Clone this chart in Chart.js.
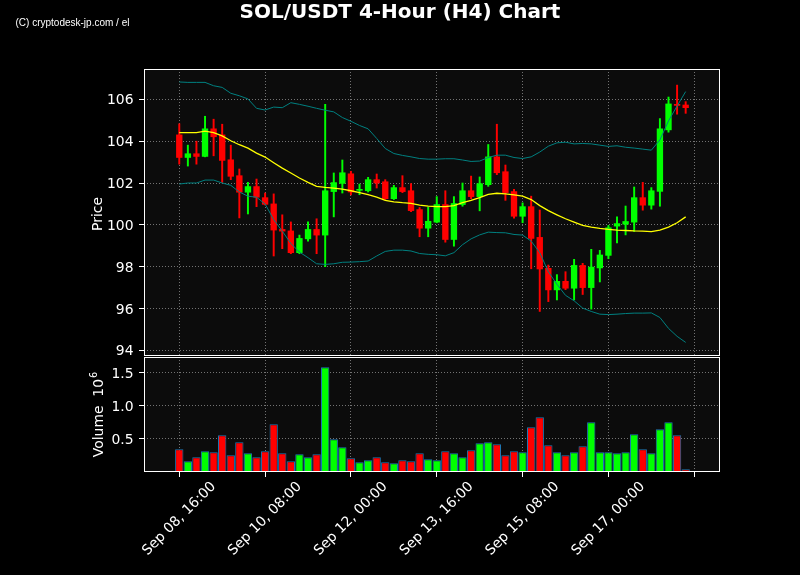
<!DOCTYPE html>
<html>
<head>
<meta charset="utf-8">
<title>SOL/USDT 4-Hour (H4) Chart</title>
<script src="https://cdn.jsdelivr.net/npm/chart.js@4.4.0/dist/chart.umd.min.js"></script>
<style>
    html, body { margin: 0; padding: 0; background: #000; }
    #wrap { position: relative; width: 800px; height: 575px; }
    canvas { position: absolute; left: 0; top: 0; }
</style>
</head>
<body>
<div id="wrap">
    <canvas id="price_chart" width="800" height="575"></canvas>
    <canvas id="volume_chart" width="800" height="575"></canvas>
</div>
<script>
// 60 candles, 4h each, starting Sep 08 16:00
const opens = [
    104.30, 103.22, 103.40, 103.27, 104.59, 104.30, 103.11, 102.35, 101.56, 101.83,
    101.30, 101.00, 99.78, 99.71, 98.67, 99.33, 99.78, 99.51, 101.59, 101.98,
    102.44, 101.65, 101.63, 102.16, 102.06, 101.25, 101.78, 101.63, 100.73, 99.84,
    100.13, 100.97, 99.30, 100.97, 101.63, 101.35, 101.92, 103.25, 102.54, 101.59,
    100.41, 100.87, 99.40, 97.92, 96.89, 97.30, 96.97, 98.06, 97.00, 97.94,
    98.54, 99.94, 100.03, 100.13, 101.30, 100.94, 101.60, 104.54, 105.76, 105.73
];
const highs = [
    104.83, 103.81, 104.00, 105.19, 105.05, 104.81, 103.81, 102.67, 102.03, 102.19,
    101.52, 101.48, 100.48, 100.14, 99.51, 100.14, 100.29, 105.76, 102.48, 103.10,
    102.56, 101.95, 102.27, 102.43, 102.16, 101.89, 102.35, 101.97, 100.83, 100.84,
    101.35, 101.63, 101.35, 102.00, 102.33, 102.29, 103.84, 104.81, 102.86, 101.70,
    101.05, 101.37, 100.71, 98.08, 97.62, 97.76, 98.35, 98.16, 98.83, 98.78,
    99.97, 100.38, 100.90, 101.81, 102.03, 101.78, 105.08, 106.11, 106.68, 105.89
];
const lows = [
    102.90, 102.81, 102.90, 103.25, 103.30, 102.03, 102.16, 100.33, 100.52, 100.87,
    100.95, 98.51, 98.86, 98.62, 98.62, 99.22, 98.62, 98.00, 100.38, 101.52,
    101.43, 101.44, 101.57, 101.76, 101.21, 101.21, 101.54, 100.63, 99.43, 99.43,
    100.10, 99.17, 98.98, 100.89, 101.25, 100.67, 101.84, 102.40, 101.17, 100.32,
    100.10, 97.90, 95.86, 96.33, 96.41, 96.90, 96.41, 96.67, 95.97, 97.27,
    98.38, 99.14, 99.52, 99.68, 100.70, 100.75, 100.89, 104.43, 105.29, 105.33
];
const closes = [
    103.22, 103.40, 103.27, 104.59, 104.21, 103.08, 102.32, 101.56, 101.83, 101.32,
    100.98, 99.75, 99.70, 98.67, 99.35, 99.78, 99.51, 101.63, 102.02, 102.49,
    101.57, 101.68, 102.16, 102.00, 101.25, 101.78, 101.59, 100.68, 99.84, 100.17,
    100.97, 99.30, 101.02, 101.63, 101.35, 101.97, 103.25, 102.49, 101.54, 100.41,
    100.87, 99.35, 97.89, 96.89, 97.30, 96.97, 98.06, 97.00, 97.98, 98.56,
    99.86, 100.06, 100.16, 101.30, 100.94, 101.63, 104.59, 105.78, 105.71, 105.60
];
// volume in millions
const volumes = [
    0.343, 0.162, 0.222, 0.313, 0.298, 0.556, 0.253, 0.449, 0.283, 0.222,
    0.313, 0.722, 0.283, 0.162, 0.268, 0.222, 0.268, 1.586, 0.495, 0.374,
    0.207, 0.146, 0.177, 0.222, 0.146, 0.131, 0.177, 0.162, 0.283, 0.192,
    0.177, 0.313, 0.283, 0.222, 0.328, 0.434, 0.449, 0.419, 0.253, 0.313,
    0.298, 0.677, 0.828, 0.404, 0.298, 0.253, 0.298, 0.389, 0.753, 0.298,
    0.298, 0.283, 0.298, 0.571, 0.343, 0.283, 0.646, 0.753, 0.556, 0.040
];
const smaLine = [
    104.41, 104.41, 104.41, 104.48, 104.41, 104.25, 104.02, 103.83, 103.67, 103.43,
    103.24, 102.97, 102.71, 102.48, 102.24, 102.03, 101.84, 101.79, 101.76, 101.71,
    101.63, 101.54, 101.44, 101.33, 101.17, 101.10, 101.06, 101.03, 100.94, 100.89,
    100.87, 100.87, 100.92, 101.06, 101.17, 101.30, 101.46, 101.51, 101.48, 101.43,
    101.37, 101.21, 100.92, 100.68, 100.48, 100.29, 100.13, 99.97, 99.89, 99.83,
    99.78, 99.75, 99.73, 99.71, 99.70, 99.68, 99.75, 99.89, 100.10, 100.38
];
const upperBand = [
    106.83, 106.81, 106.81, 106.81, 106.65, 106.57, 106.29, 106.17, 106.02, 105.57,
    105.49, 105.63, 105.60, 105.84, 105.76, 105.67, 105.57, 105.48, 105.40, 105.13,
    104.95, 104.75, 104.59, 104.13, 103.65, 103.41, 103.32, 103.25, 103.17, 103.14,
    103.14, 103.16, 103.16, 103.10, 103.03, 103.05, 103.22, 103.33, 103.33, 103.22,
    103.17, 103.25, 103.48, 103.76, 103.92, 103.95, 103.87, 103.89, 103.87, 103.81,
    103.75, 103.78, 103.71, 103.67, 103.62, 103.57, 104.06, 104.97, 105.68, 106.37
];
const lowerBand = [
    101.95, 102.00, 102.00, 102.14, 102.14, 102.00, 101.89, 101.57, 101.37, 101.32,
    101.00, 100.25, 99.70, 99.11, 98.70, 98.43, 98.14, 98.11, 98.14, 98.21,
    98.22, 98.24, 98.27, 98.51, 98.73, 98.79, 98.79, 98.75, 98.63, 98.59,
    98.57, 98.52, 98.67, 99.05, 99.33, 99.52, 99.65, 99.63, 99.62, 99.54,
    99.51, 99.22, 98.67, 97.76, 97.16, 96.63, 96.37, 96.02, 95.86, 95.73,
    95.71, 95.73, 95.76, 95.78, 95.78, 95.79, 95.57, 95.05, 94.67, 94.38
];
const xTickPos = [0, 10, 20, 30, 40, 50, 60];
const xTickLabels = ['Sep 08, 16:00', 'Sep 10, 08:00', 'Sep 12, 00:00', 'Sep 13, 16:00', 'Sep 15, 08:00', 'Sep 17, 00:00', ''];
const priceTicks = [94, 96, 98, 100, 102, 104, 106];
const volumeTicks = [0.5, 1.0, 1.5];

const UP = '#00ff00', DOWN = '#ff0000';
const GRID = 'rgba(200,200,200,0.55)';
const FONT = 'DejaVu Sans';

Chart.defaults.font.family = FONT;
Chart.defaults.font.size = 13.9;
Chart.defaults.color = '#fff';

const colors = opens.map((o, i) => closes[i] >= o ? UP : DOWN);
const pts = arr => arr.map((v, i) => ({x: i, y: v}));

const xMin = -4.11, xMax = 63.0;

const panelBg = {
    id: 'panelBg',
    beforeDraw(chart) {
        const a = chart.chartArea, ctx = chart.ctx;
        ctx.save();
        ctx.fillStyle = '#0c0c0c';
        ctx.fillRect(a.left, a.top, a.right - a.left, a.bottom - a.top);
        ctx.restore();
    },
    afterDraw(chart) {
        const a = chart.chartArea, ctx = chart.ctx;
        ctx.save();
        ctx.strokeStyle = '#fff';
        ctx.lineWidth = 1;
        ctx.strokeRect(a.left + 0.5, a.top + 0.5, a.right - a.left - 1, a.bottom - a.top - 1);
        ctx.restore();
    }
};

function xScale(extra) {
    return Object.assign({
        type: 'linear',
        min: xMin,
        max: xMax,
        offset: false,
        afterBuildTicks: s => { s.ticks = xTickPos.map(v => ({value: v})); },
        ticks: {display: false},
        grid: {color: GRID, offset: false, tickColor: '#fff', tickLength: 5, tickBorderDash: []},
        border: {display: false, dash: [1, 2]}
    }, extra);
}

// price panel
new Chart(document.getElementById('price_chart'), {
    type: 'bar',
    data: {
        datasets: [
            {type: 'line', data: pts(upperBand), borderColor: '#008080', borderWidth: 1, pointRadius: 0, tension: 0},
            {type: 'line', data: pts(lowerBand), borderColor: '#008080', borderWidth: 1, pointRadius: 0, tension: 0},
            {type: 'line', data: pts(smaLine), borderColor: '#ffff00', borderWidth: 1.3, pointRadius: 0, tension: 0},
            {
                data: opens.map((o, i) => ({x: i, y: [o, closes[i]]})),
                backgroundColor: colors,
                barThickness: 5.7,
                minBarLength: 1,
                grouped: false
            },
            {
                data: lows.map((l, i) => ({x: i, y: [l, highs[i]]})),
                backgroundColor: colors,
                barThickness: 1.3,
                grouped: false
            }
        ]
    },
    options: {
        responsive: false,
        animation: false,
        events: [],
        layout: {padding: {left: 0, right: 80, top: 69, bottom: 219}},
        plugins: {legend: {display: false}, tooltip: {enabled: false}},
        scales: {
            x: xScale({
                afterFit: s => { s.height = 0; },
                grid: {color: GRID, offset: false, drawTicks: false}
            }),
            y: {
                min: 93.73,
                max: 107.45,
                afterFit: s => { s.width = 144; },
                afterBuildTicks: s => { s.ticks = priceTicks.map(v => ({value: v})); },
                ticks: {padding: 5.5, labelOffset: 1.5, callback: v => String(v)},
                grid: {color: GRID, tickColor: '#fff', tickLength: 5, tickBorderDash: []},
                border: {display: false, dash: [1, 2]}
            }
        }
    },
    plugins: [panelBg]
});

// volume panel + all texts
const texts = {
    id: 'texts',
    afterDraw(chart) {
        const ctx = chart.ctx, xs = chart.scales.x;
        ctx.save();
        ctx.fillStyle = '#fff';

        ctx.font = 'bold 20px "DejaVu Sans"';
        ctx.textAlign = 'center';
        ctx.textBaseline = 'alphabetic';
        ctx.fillText('SOL/USDT 4-Hour (H4) Chart', 400, 17.5);

        ctx.font = '10px "Liberation Sans"';
        ctx.textAlign = 'left';
        ctx.fillText('(C) cryptodesk-jp.com / el', 15.5, 25.7);

        ctx.font = '13.9px "DejaVu Sans"';
        ctx.textAlign = 'center';
        ctx.save();
        ctx.translate(101.5, 214);
        ctx.rotate(-Math.PI / 2);
        ctx.fillText('Price', 0, 0);
        ctx.restore();

        // "Volume  10" with a raised 6
        const mainTxt = 'Volume  10', supTxt = '6';
        const wMain = ctx.measureText(mainTxt).width;
        ctx.font = '9.7px "DejaVu Sans"';
        const wSup = ctx.measureText(supTxt).width;
        ctx.save();
        ctx.translate(102.7, 414.5);
        ctx.rotate(-Math.PI / 2);
        ctx.textAlign = 'left';
        const x0 = -(wMain + wSup + 1) / 2;
        ctx.font = '13.9px "DejaVu Sans"';
        ctx.fillText(mainTxt, x0, 0);
        ctx.font = '9.7px "DejaVu Sans"';
        ctx.fillText(supTxt, x0 + wMain + 1, -6);
        ctx.restore();

        ctx.font = '13.9px "DejaVu Sans"';
        ctx.textAlign = 'center';
        ctx.textBaseline = 'middle';
        xTickPos.forEach((v, i) => {
            const lab = xTickLabels[i];
            if (!lab) return;
            const w = ctx.measureText(lab).width;
            const cx = xs.getPixelForValue(v);
            const cy = xs.top + 7.5 + (w + 14) * Math.SQRT1_2 / 2;
            ctx.save();
            ctx.translate(cx, cy);
            ctx.rotate(-Math.PI / 4);
            ctx.fillText(lab, 0, 0);
            ctx.restore();
        });
        ctx.restore();
    }
};

new Chart(document.getElementById('volume_chart'), {
    type: 'bar',
    data: {
        datasets: [{
            data: volumes.map((v, i) => ({x: i, y: v})),
            backgroundColor: colors,
            borderColor: '#1f77b4',
            borderWidth: 1,
            borderSkipped: false,
            barPercentage: 0.97,
            categoryPercentage: 1
        }]
    },
    options: {
        responsive: false,
        animation: false,
        events: [],
        layout: {padding: {left: 0, right: 80, top: 357, bottom: 0}},
        plugins: {legend: {display: false}, tooltip: {enabled: false}},
        scales: {
            x: xScale({afterFit: s => { s.height = 103; }}),
            y: {
                min: 0,
                max: 1.742,
                afterFit: s => { s.width = 144; },
                afterBuildTicks: s => { s.ticks = volumeTicks.map(v => ({value: v})); },
                ticks: {padding: 5.5, labelOffset: 1.5, callback: v => v.toFixed(1)},
                grid: {color: GRID, tickColor: '#fff', tickLength: 5, tickBorderDash: []},
                border: {display: false, dash: [1, 2]}
            }
        }
    },
    plugins: [panelBg, texts]
});
</script>
</body>
</html>
